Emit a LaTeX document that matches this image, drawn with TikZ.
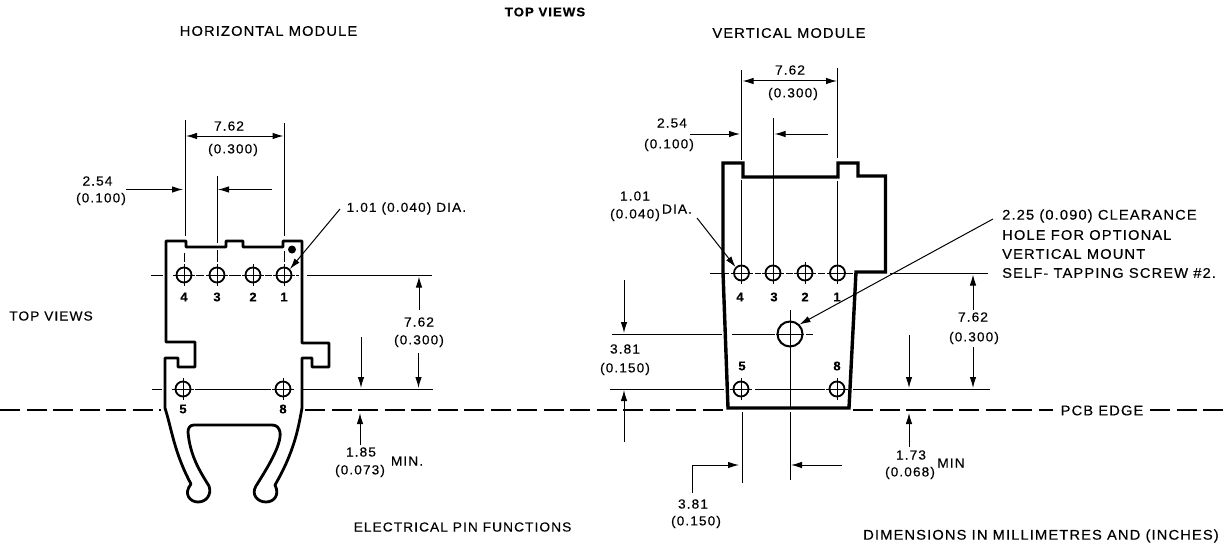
\documentclass[tikz,border=0pt]{standalone}
\usepackage{fontspec}
\setmainfont[FakeStretch=1.05,LetterSpace=8,FakeBold=0.3]{Liberation Sans}
\usetikzlibrary{arrows.meta}
\tikzset{
 x=1pt,y=-1pt,
 body/.style={line width=3.4pt,line join=miter},
 bodyl/.style={line width=2.8pt,line join=round},
 thin line/.style={line width=1pt},
 dim/.style={line width=1pt,-{Latex[length=11pt,width=6.5pt]}},
 dimb/.style={line width=1pt,{Latex[length=11pt,width=6.5pt]}-{Latex[length=11pt,width=6.5pt]}},
 hole/.style={circle,draw,line width=1.8pt,minimum size=15pt,inner sep=0pt},
 bighole/.style={circle,draw,line width=2pt,minimum size=25pt,inner sep=0pt},
 lbl/.style={font=\fontsize{14}{16}\selectfont,align=center,inner sep=0pt},
 num/.style={font=\fontsize{13.1}{15}\selectfont,align=center,inner sep=0pt},
 pin/.style={font=\bfseries\fontsize{12.5}{14}\selectfont,inner sep=0pt},
 pcb/.style={line width=1.9pt,dash pattern=on 20pt off 6.5pt},
}
\begin{document}
\begin{tikzpicture}
\useasboundingbox (0,0) rectangle (1227,543);
% texts
\node[font=\bfseries\fontsize{12.6}{14}\selectfont,inner sep=0pt] (t0) at (545,12) {TOP VIEWS};
\node[lbl] (t1) at (268.5,31) {HORIZONTAL MODULE};
\node[lbl] (t2) at (789,33) {VERTICAL MODULE};
\node[num] (t3) at (51,316) {TOP VIEWS};
\node[num] (t4) at (462.5,527) {ELECTRICAL PIN FUNCTIONS};
\node[lbl] (t5) at (1041,536) {DIMENSIONS IN MILLIMETRES AND (INCHES)};
% PCB edge
\node[lbl] (pcbt) at (1102,410.5) {PCB EDGE};
\coordinate (pa) at (0,410); \coordinate (pb) at (161,410);
\coordinate (pc) at (305,410); \coordinate (pd) at (724,410);
\coordinate (pe) at (853,410); \coordinate (pf) at (1227,410);
\coordinate (pg) at (1053,410); \coordinate (ph) at (1150,410);
\draw[pcb] (pa)--(pb); \draw[pcb] (pc)--(pd); \draw[pcb] (pe)--(pg); \draw[pcb] (ph)--(pf);
% LEFT centre lines
\draw[thin line] (151,275)--(163,275) (196,275)--(204,275) (229,275)--(241,275) (265,275)--(272,275) (296,275)--(299,275) (307,275)--(432,275);
\draw[thin line] (152,389)--(162,389) (195,389)--(271,389) (303,389)--(433,389);
% LEFT holes
\foreach \n/\x/\y/\t/\ly in {a4/184/275/4/297,a3/217/275/3/297,a2/253/275/2/297,a1/284/275/1/297,a5/183/389/5/409,a8/283/389/8/409}{
 \node[hole] (\n) at (\x,\y) {};
 \draw[thin line] ([yshift=11pt]\n.center)--([yshift=-11pt]\n.center) ([xshift=-11pt]\n.center)--([xshift=11pt]\n.center);
 \node[pin] at (\x,\ly) {\t};
}
% LEFT outline
\draw[bodyl] (166,241)--(186,241)--(186,247)--(226,247)--(226,241)--(243,241)--(243,247)--(283,247)--(283,241)--(302,241)
 --(302,343)--(329,343)--(329,367)--(312,367)--(312,358)--(302,358)--(302,408)
 .. controls (298,430) and (294,452) .. (275,485)
 .. controls (280,495) and (274,502) .. (266,502)
 .. controls (257,502) and (251,494) .. (256,486)
 .. controls (266,470) and (282,445) .. (280,432)
 .. controls (279,428) and (277,425) .. (272,425)
 --(194,425)
 .. controls (190,425) and (188,428) .. (188,432)
 .. controls (190,455) and (199,470) .. (209,486)
 .. controls (212,495) and (206,502) .. (198,502)
 .. controls (190,502) and (183,494) .. (191,484)
 .. controls (174,452) and (172,430) .. (165,408)
 --(165,358)--(178,358)--(178,367)--(195,367)--(195,342)--(166,342)--cycle;
\node[circle,fill,minimum size=8pt,inner sep=0pt] (dot) at (292,249.5) {};
% LEFT dims
\draw[thin line] (185.5,120)--(185.5,236) (284,123)--(284,236) (217,176)--(217,243);
\draw[thin line] (184.5,253)--(184.5,262) (217,250)--(217,262) (284.5,251)--(284.5,262);
\draw[dimb] (186,136)--(283.5,136);
\node[num] (d1) at (229,126) {7.62};
\node[num] (d2) at (233,150) {(0.300)};
\node[num] (d3) at (97.5,181) {2.54};
\node[num] (d4) at (101,199) {(0.100)};
\coordinate (d3e) at (126,189.5); \coordinate (d3f) at (183,189.5);
\draw[dim] (d3e)--(d3f);
\coordinate (d5e) at (272,189.5); \coordinate (d5f) at (218,189.5);
\draw[dim] (d5e)--(d5f);
\node[num,anchor=west] (d6) at (346.5,208.5) {1.01 (0.040) DIA.};
\coordinate (d6e) at (340,209);
\draw[dim] (d6e)--(a1.north east);
\node[num] (d7) at (419,322) {7.62};
\node[num] (d9) at (419,341) {(0.300)};
\draw[dim] (419,310)--(419,276.5);
\draw[dim] (418.5,353)--(418.5,388);
\draw[dim] (361,337)--(361,388);
\draw[dim] (360,445)--(360,413);
\node[num] (d10) at (361,452) {1.85};
\node[num] (d11) at (360,471) {(0.073)};
\node[num] (d12) at (407,461) {MIN.};
% RIGHT centre lines
\draw[thin line] (710,273)--(729,273) (755,273)--(761,273) (786,273)--(793,273) (818,273)--(825,273) (849,273)--(853,273) (890,273)--(988,273);
\draw[thin line] (612,334)--(722,334) (732,334)--(775,334) (806,334)--(813,334);
\draw[thin line] (610,389)--(724,389) (755,389)--(825,389) (853,389)--(990,389);
% RIGHT holes
\foreach \n/\x/\y/\t/\lx/\ly in {b4/741.5/273/4/740/297,b3/773/273/3/774/297,b2/805/273/2/805/297,b1/837.5/273/1/837/297,b5/741/389/5/742/366,b8/837/389/8/837/366}{
 \node[hole] (\n) at (\x,\y) {};
 \draw[thin line] ([yshift=11pt]\n.center)--([yshift=-11pt]\n.center) ([xshift=-11pt]\n.center)--([xshift=11pt]\n.center);
 \node[pin] at (\lx,\ly) {\t};
}
\node[bighole] (b9) at (790,334) {};
\draw[thin line] (790,310)--(790,408) (790,412)--(790,480) (776,334)--(804,334);
% RIGHT outline
\draw[body] (723,163)--(743,163)--(743,177)--(838,177)--(838,163)--(858,163)--(858,176)--(885.5,176)--(885.5,272)--(856,272)
 --(849,408)--(728,408)--(723,272)--cycle;
% RIGHT dims
\draw[thin line] (741.7,70)--(741.7,160) (837.7,68)--(837.7,158) (773,118)--(773,262);
\draw[thin line] (741.7,180)--(741.7,262) (837.7,181)--(837.7,262);
\draw[thin line] (742,412)--(742,483);
\draw[dimb] (742.5,81)--(837,81);
\node[num] (g1) at (790,70) {7.62};
\node[num] (g2) at (793,94) {(0.300)};
\node[num] (g3) at (672,123) {2.54};
\node[num] (g4) at (669,145) {(0.100)};
\draw[dim] (690,134)--(740,134);
\draw[dim] (828,134)--(774.5,134);
\node[num] (g5) at (635,196) {1.01};
\node[num] (g6) at (635,215) {(0.040)};
\node[num] (g7) at (677,209) {DIA.};
\coordinate (g7e) at (697,218);
\draw[dim] (g7e)--(b4.north west);
\draw[dim] (993,219)--(b9.north east);
\node[lbl,anchor=west] (g8) at (1002,216) {2.25 (0.090) CLEARANCE};
\node[lbl,anchor=west] (g9) at (1002,235) {HOLE FOR OPTIONAL};
\node[lbl,anchor=west] (g10) at (1002,254) {VERTICAL MOUNT};
\node[lbl,anchor=west] (g11) at (1002,273) {SELF- TAPPING SCREW \#2.};
\draw[dim] (624,280)--(624,333);
\draw[dim] (624,442)--(624,390);
\node[num] (g12) at (625,349) {3.81};
\node[num] (g13) at (625,369) {(0.150)};
\draw[dim] (692,493)--(692,465)--(739,465);
\node[num] (g14) at (693,504) {3.81};
\node[num] (g15) at (696,522) {(0.150)};
\draw[dim] (842,465)--(791,465);
\draw[dim] (973,310)--(973,274.5);
\draw[dim] (973,347)--(973,388);
\draw[dim] (909,335)--(909,388);
\draw[dim] (909,447)--(909,413);
\node[num] (g16) at (973,317) {7.62};
\node[num] (g17) at (974,338) {(0.300)};
\node[num] (g18) at (911,455) {1.73};
\node[num] (g19) at (910,473) {(0.068)};
\node[num] (g20) at (951,463) {MIN};
\end{tikzpicture}
\end{document}
